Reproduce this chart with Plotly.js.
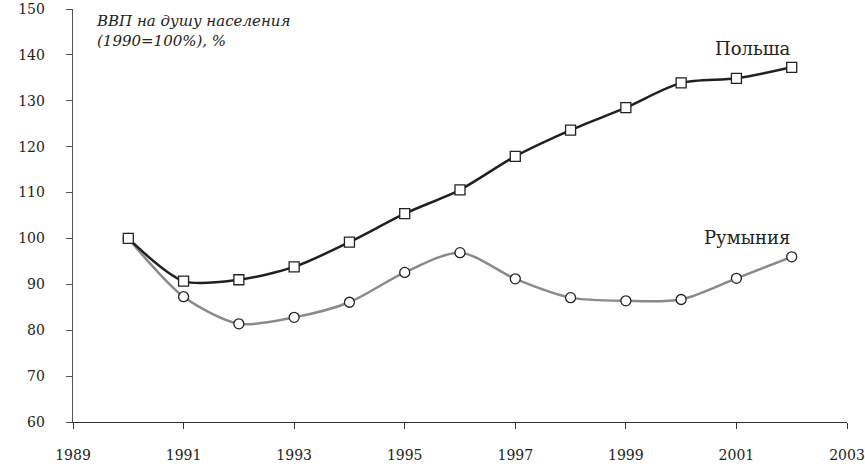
<!DOCTYPE html>
<html>
<head>
<meta charset="utf-8">
<script src="https://cdn.plot.ly/plotly-3.0.1.min.js"></script>
<style>html,body{margin:0;padding:0;background:#fff;}#chart{width:865px;height:467px;}</style>
</head>
<body>
<div id="chart"></div>
<script>
const years = [1990, 1991, 1992, 1993, 1994, 1995, 1996, 1997, 1998, 1999, 2000, 2001, 2002];
const poland = [100, 90.7, 91.0, 93.8, 99.2, 105.4, 110.6, 117.9, 123.6, 128.5, 133.9, 134.9, 137.3];
const romania = [100, 87.3, 81.4, 82.8, 86.1, 92.6, 96.9, 91.2, 87.1, 86.4, 86.7, 91.3, 96.0];
const xTicks = [1989, 1991, 1993, 1995, 1997, 1999, 2001, 2003];
const yTicks = [60, 70, 80, 90, 100, 110, 120, 130, 140, 150];
const seriesNames = ["Польша", "Румыния"];
const chartTitle = "ВВП на душу населения<br>(1990=100%), %";

const tickFont = {family: "DejaVu Serif", size: 14, color: "#222"};

const traces = [
  {
    x: years, y: romania, name: seriesNames[1], type: "scatter", mode: "lines+markers",
    line: {color: "#8a8a8a", width: 2.5, shape: "spline", smoothing: 0.8},
    marker: {symbol: "circle", size: 10, color: "#fff", line: {color: "#222", width: 1.3}},
    cliponaxis: false
  },
  {
    x: years, y: poland, name: seriesNames[0], type: "scatter", mode: "lines+markers",
    line: {color: "#231f20", width: 2.5, shape: "spline", smoothing: 0.8},
    marker: {symbol: "square", size: 10, color: "#fff", line: {color: "#222", width: 1.3}},
    cliponaxis: false
  }
];

const layout = {
  width: 865, height: 467,
  margin: {l: 73, r: 18, t: 9, b: 45, pad: 0},
  paper_bgcolor: "#fff", plot_bgcolor: "#fff",
  showlegend: false,
  xaxis: {
    range: [1989, 2003], tickvals: xTicks, ticktext: xTicks.map(String),
    showgrid: false, zeroline: false, showline: true, linecolor: "#333", linewidth: 1.3,
    ticks: "outside", ticklen: 6, tickcolor: "#333", tickwidth: 1,
    tickfont: tickFont, ticklabelstandoff: 14, ticklabeloverflow: "allow", fixedrange: true
  },
  yaxis: {
    range: [60, 150], tickvals: yTicks, ticktext: yTicks.map(String),
    showgrid: false, zeroline: false, showline: true, linecolor: "#555", linewidth: 1.3,
    ticks: "outside", ticklen: 6, tickcolor: "#555", tickwidth: 1,
    tickfont: tickFont, ticklabelstandoff: 18, ticklabeloverflow: "allow", fixedrange: true
  },
  annotations: [
    {xref: "paper", yref: "paper", x: 0.027, y: 0.998, xanchor: "left", yanchor: "top",
     text: chartTitle, showarrow: false, align: "left",
     font: {family: "DejaVu Serif", size: 15, color: "#222", style: "italic"}},
    {xref: "x", yref: "y", x: 2001.3, y: 141.5, text: seriesNames[0], showarrow: false,
     font: {family: "DejaVu Serif", size: 18, color: "#222"}},
    {xref: "x", yref: "y", x: 2001.2, y: 100.2, text: seriesNames[1], showarrow: false,
     font: {family: "DejaVu Serif", size: 18, color: "#222"}}
  ]
};

Plotly.newPlot("chart", traces, layout, {displayModeBar: false, staticPlot: true});
</script>
</body>
</html>
